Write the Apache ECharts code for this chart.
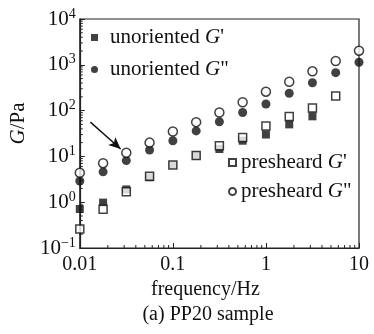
<!DOCTYPE html>
<html>
<head>
<meta charset="utf-8">
<script src="https://cdn.jsdelivr.net/npm/echarts@6/dist/echarts.min.js"></script>
<style>
	html, body { margin: 0; padding: 0; background: #fff; }
	#chart { width: 374px; height: 334px; }
</style>
</head>
<body>
<div id="chart"></div>
<script>
// 频率 (Hz)
var freq = [0.01, 0.0178, 0.0316, 0.0562, 0.1, 0.178, 0.316, 0.562, 1, 1.78, 3.16, 5.62, 10];
// 模量 (Pa)
var unorientedG1 = [0.71, 0.98, 1.9, 3.5, 6.5, 10.4, 14.5, 22, 30, 50, 75, null, null];
var unorientedG2 = [2.9, 4.6, 8.1, 13.8, 22, 36, 57, 91, 139, 239, 405, 673, 1135];
var presheardG1 = [0.26, 0.70, 1.7, 3.7, 6.5, 10.4, 17, 26, 46, 74, 114, 208, null];
var presheardG2 = [4.4, 7.1, 12, 20, 35, 56, 91, 152, 259, 427, 721, 1210, 2030];
// 刻度标签
var xTickLabels = ['0.01', '0.1', '1', '10'];
var yTickExps = ['\u22121', '0', '1', '2', '3', '4'];
// 箭头
var arrowFrom = [0.0130, 56];
var arrowTo = [0.0275, 14.5];

var FONT = '"Liberation Serif", "Times New Roman", serif';

/**
 * 组合 [x, y] 数据
 */
function pairs(ys) {
	var out = [];
	for (var i = 0; i < freq.length; i++) {
		if (ys[i] != null) out.push([freq[i], ys[i]]);
	}
	return out;
}

/**
 * 次刻度（对数坐标 2..9）
 */
function minorValues(lo, hi) {
	var out = [];
	for (var d = lo; d < hi; d *= 10) {
		for (var k = 2; k <= 9; k++) out.push(+(d * k).toPrecision(3));
	}
	return out;
}

function legendFmt(name) {
	var parts = name.split(' G');
	return '{t|' + parts[0] + ' }{g|G}{t|' + parts[1] + '}';
}

var legendRich = {
	t: { fontFamily: FONT, fontSize: 21, color: '#111', lineHeight: 20 },
	g: { fontFamily: FONT, fontSize: 21, fontStyle: 'italic', color: '#111', lineHeight: 20 }
};

var openStyle = { color: '#fff', borderColor: '#111', borderWidth: 1.5 };
var fillStyle = { color: '#111' };

var myChart = echarts.init(document.getElementById('chart'));
var option = {
	backgroundColor: '#fff',
	animation: false,
	title: {
		text: '(a) PP20 sample',
		left: 203,
		top: 300,
		textAlign: 'center',
		textStyle: { fontFamily: FONT, fontSize: 20, fontWeight: 'normal', color: '#111' }
	},
	grid: {
		left: 76, right: 15, top: 19, bottom: 86,
		show: true, borderColor: '#222', borderWidth: 1.2, backgroundColor: 'transparent'
	},
	legend: [{
		data: ["unoriented G'", 'unoriented G"'],
		orient: 'vertical',
		left: 91, top: 27,
		padding: 0,
		itemWidth: 7, itemHeight: 7,
		itemGap: 11,
		selectedMode: false,
		formatter: legendFmt,
		textStyle: { padding: [0, 0, 0, 7], rich: legendRich }
	}, {
		data: ["presheard G'", 'presheard G"'],
		orient: 'vertical',
		left: 228, top: 152,
		padding: 0,
		itemWidth: 7, itemHeight: 7,
		itemGap: 8,
		selectedMode: false,
		formatter: legendFmt,
		textStyle: { rich: legendRich }
	}],
	xAxis: {
		type: 'log', logBase: 10, min: 0.01, max: 10,
		name: 'frequency/Hz',
		nameLocation: 'middle',
		nameGap: 29,
		nameTextStyle: { fontFamily: FONT, fontSize: 20, color: '#111', padding: [0, 28, 0, 0] },
		axisLine: { lineStyle: { color: '#222', width: 1.2 } },
		axisTick: { inside: true, length: 5, lineStyle: { color: '#222' } },
		splitLine: { show: false },
		axisLabel: {
			margin: 7,
			fontFamily: FONT, fontSize: 20, color: '#111',
			formatter: function(v) {
				var i = Math.round(Math.log10(v) + 2);
				return xTickLabels[i];
			}
		}
	},
	yAxis: {
		type: 'log', logBase: 10, min: 0.1, max: 10000,
		name: '{g|G}{t|/Pa}',
		nameLocation: 'middle',
		nameGap: 48,
		nameRotate: 90,
		nameTextStyle: {
			padding: [0, 0, 0, 20],
			rich: {
				t: { fontFamily: FONT, fontSize: 21, color: '#111' },
				g: { fontFamily: FONT, fontSize: 21, fontStyle: 'italic', color: '#111' }
			}
		},
		axisLine: { lineStyle: { color: '#222', width: 1.2 } },
		axisTick: { inside: true, length: 5, lineStyle: { color: '#222' } },
		splitLine: { show: false },
		axisLabel: {
			margin: 4,
			formatter: function(v) {
				var i = Math.round(Math.log10(v) + 1);
				return '{b|10}{s|' + yTickExps[i] + '}';
			},
			rich: {
				b: { fontFamily: FONT, fontSize: 21, color: '#111', lineHeight: 24 },
				s: { fontFamily: FONT, fontSize: 14, color: '#111', verticalAlign: 'top', lineHeight: 24 }
			}
		}
	},
	series: [{
		name: "unoriented G'",
		type: 'scatter',
		symbol: 'rect', symbolSize: 8,
		itemStyle: fillStyle,
		data: pairs(unorientedG1)
	}, {
		name: 'unoriented G"',
		type: 'scatter',
		symbol: 'circle', symbolSize: 9,
		itemStyle: fillStyle,
		data: pairs(unorientedG2)
	}, {
		name: "presheard G'",
		type: 'scatter',
		symbol: 'rect', symbolSize: 8,
		itemStyle: openStyle,
		data: pairs(presheardG1)
	}, {
		name: 'presheard G"',
		type: 'scatter',
		symbol: 'circle', symbolSize: 9,
		itemStyle: openStyle,
		data: pairs(presheardG2),
		markLine: {
			silent: true,
			symbol: ['none', 'arrow'],
			symbolSize: [8, 12],
			label: { show: false },
			lineStyle: { color: '#111', width: 1.4, type: 'solid' },
			data: [[{ coord: arrowFrom }, { coord: arrowTo }]]
		}
	}, {
		// x 轴次刻度
		type: 'custom',
		silent: true,
		data: minorValues(0.01, 10).map(function(v) { return [v, 0.1]; }),
		renderItem: function(params, api) {
			var p = api.coord([api.value(0), api.value(1)]);
			return { type: 'line', shape: { x1: p[0], y1: p[1], x2: p[0], y2: p[1] - 3 }, style: { stroke: '#222', lineWidth: 1 } };
		}
	}, {
		// y 轴次刻度
		type: 'custom',
		silent: true,
		data: minorValues(0.1, 10000).map(function(v) { return [0.01, v]; }),
		renderItem: function(params, api) {
			var p = api.coord([api.value(0), api.value(1)]);
			return { type: 'line', shape: { x1: p[0], y1: p[1], x2: p[0] + 3, y2: p[1] }, style: { stroke: '#222', lineWidth: 1 } };
		}
	}]
};
myChart.setOption(option);
</script>
</body>
</html>
